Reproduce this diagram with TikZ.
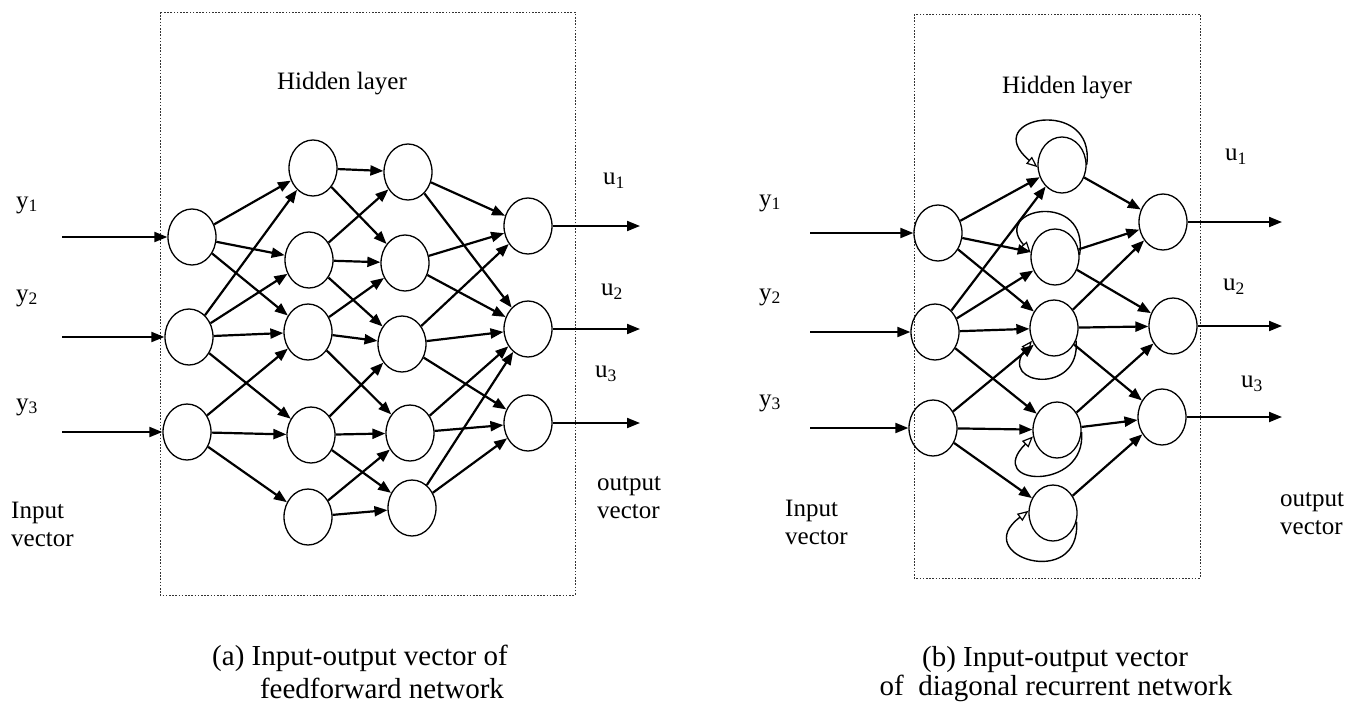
\documentclass[tikz,border=0pt]{standalone}
\usepackage{fontspec}
\setmainfont{Liberation Serif}
\usetikzlibrary{arrows.meta,shapes.geometric}

\tikzset{
  neuron/.style={draw, ellipse, line width=1.3pt, minimum width=48pt, minimum height=56pt, inner sep=0pt},
  conn/.style={line width=2.2pt, -{Triangle[length=13pt,width=10pt]}},
  iolink/.style={line width=2pt, -{Triangle[length=13pt,width=10pt]}},
  selfloop/.style={line width=1.4pt, -{Triangle[open,length=11pt,width=9pt,line width=1.2pt]}},
  frame/.style={line width=1pt, draw=black!80, dash pattern=on 1.6pt off 1.6pt},
  lbl/.style={font=\fontsize{25}{28}\selectfont, inner sep=0pt},
  caption/.style={font=\fontsize{29}{32}\selectfont, inner sep=0pt},
}

\begin{document}
\begin{tikzpicture}[x=1pt, y=-1pt]
\useasboundingbox (0,0) rectangle (1365,702);

% ---------------- (a) feedforward network ----------------
\draw[frame] (160,12) rectangle (575,595);
\node[lbl] (a-hid) at (342,84) {Hidden layer};

\node[neuron] (a-i1) at (192,237) {};
\node[neuron] (a-i2) at (189,337) {};
\node[neuron] (a-i3) at (187,432) {};

\node[neuron] (a-h1) at (313,168) {};
\node[neuron] (a-h2) at (309,260) {};
\node[neuron] (a-h3) at (308,332) {};
\node[neuron] (a-h4) at (311,435) {};
\node[neuron] (a-h5) at (308,517) {};

\node[neuron] (a-g1) at (408,172) {};
\node[neuron] (a-g2) at (405,263) {};
\node[neuron] (a-g3) at (402,344) {};
\node[neuron] (a-g4) at (410,433) {};
\node[neuron] (a-g5) at (412,508) {};

\node[neuron] (a-o1) at (528,226) {};
\node[neuron] (a-o2) at (528,329) {};
\node[neuron] (a-o3) at (528,423) {};

\coordinate (a-in1) at (62,237);
\coordinate (a-in2) at (62,337);
\coordinate (a-in3) at (62,432);
\coordinate (a-out1) at (640,226);
\coordinate (a-out2) at (640,329);
\coordinate (a-out3) at (640,423);

\foreach \k in {1,2,3} {
  \draw[iolink] (a-in\k) -- (a-i\k);
  \draw[iolink] (a-o\k) -- (a-out\k);
}

\foreach \s/\t in {i1/h1,i1/h2,i1/h3, i2/h1,i2/h2,i2/h3,i2/h4, i3/h3,i3/h4,i3/h5,
                   h1/g1,h1/g2, h2/g1,h2/g2,h2/g3, h3/g2,h3/g3,h3/g4, h4/g3,h4/g4,h4/g5, h5/g4,h5/g5,
                   g1/o1,g1/o2, g2/o1,g2/o2, g3/o1,g3/o2,g3/o3, g4/o2,g4/o3, g5/o2,g5/o3}
  \draw[conn] (a-\s) -- (a-\t);

\node[lbl] (a-y1) at (27,205) {y\textsubscript{1}};
\node[lbl] (a-y2) at (27,298) {y\textsubscript{2}};
\node[lbl] (a-y3) at (27,407) {y\textsubscript{3}};
\node[lbl, anchor=west, align=left] (a-inv) at (11,524) {Input\\vector};
\node[lbl] (a-u1) at (614,181) {u\textsubscript{1}};
\node[lbl] (a-u2) at (612,292) {u\textsubscript{2}};
\node[lbl] (a-u3) at (606,374) {u\textsubscript{3}};
\node[lbl, anchor=west, align=left] (a-outv) at (597,498) {output\\vector};

\node[caption] (a-cap1) at (360,658) {(a) Input-output vector of};
\node[caption] (a-cap2) at (382,688) {feedforward network};

% ---------------- (b) diagonal recurrent network ----------------
\draw[frame] (914,14) rectangle (1200,578);
\node[lbl] (b-hid) at (1067,88) {Hidden layer};

\node[neuron] (b-i1) at (938,233) {};
\node[neuron] (b-i2) at (935,332) {};
\node[neuron] (b-i3) at (933,428) {};

\node[neuron] (b-h1) at (1062,165) {};
\node[neuron] (b-h2) at (1055,257) {};
\node[neuron] (b-h3) at (1054,328) {};
\node[neuron] (b-h4) at (1057,430) {};
\node[neuron] (b-h5) at (1053,513) {};

\node[neuron] (b-o1) at (1163,222) {};
\node[neuron] (b-o2) at (1173,326) {};
\node[neuron] (b-o3) at (1162,417) {};

\coordinate (b-in1) at (810,233);
\coordinate (b-in2) at (810,332);
\coordinate (b-in3) at (810,428);
\coordinate (b-out1) at (1282,222);
\coordinate (b-out2) at (1282,326);
\coordinate (b-out3) at (1282,417);

\foreach \k in {1,2,3} {
  \draw[iolink] (b-in\k) -- (b-i\k);
  \draw[iolink] (b-o\k) -- (b-out\k);
}

\foreach \s/\t in {i1/h1,i1/h2,i1/h3, i2/h1,i2/h2,i2/h3,i2/h4, i3/h3,i3/h4,i3/h5,
                   h1/o1, h2/o1,h2/o2, h3/o1,h3/o2,h3/o3, h4/o2,h4/o3, h5/o3}
  \draw[conn] (b-\s) -- (b-\t);

% diagonal self-feedback of each hidden neuron
\draw[selfloop] (b-h1.0)   .. controls +(10,-70) and +(-60,-50) .. (b-h1.185);
\draw[selfloop] (b-h2.5)   .. controls +(10,-65) and +(-40,-45) .. (b-h2.170);
\draw[selfloop] (b-h3.-30) .. controls +(5,55)   and +(-35,45)  .. (b-h3.-150);
\draw[selfloop] (b-h4.-5)  .. controls +(5,60)   and +(-50,50)  .. (b-h4.-165);
\draw[selfloop] (b-h5.-20) .. controls +(5,70)   and +(-60,45)  .. (b-h5.175);

\node[lbl] (b-y1) at (770,203) {y\textsubscript{1}};
\node[lbl] (b-y2) at (770,297) {y\textsubscript{2}};
\node[lbl] (b-y3) at (770,403) {y\textsubscript{3}};
\node[lbl, anchor=west, align=left] (b-inv) at (785,522) {Input\\vector};
\node[lbl] (b-u1) at (1236,157) {u\textsubscript{1}};
\node[lbl] (b-u2) at (1234,287) {u\textsubscript{2}};
\node[lbl] (b-u3) at (1252,384) {u\textsubscript{3}};
\node[lbl, anchor=west, align=left] (b-outv) at (1280,514) {output\\vector};

\node[caption] (b-cap1) at (1055,660) {(b) Input-output vector};
\node[caption] (b-cap2) at (1056,688) {of\ \ diagonal recurrent network};
\end{tikzpicture}
\end{document}
